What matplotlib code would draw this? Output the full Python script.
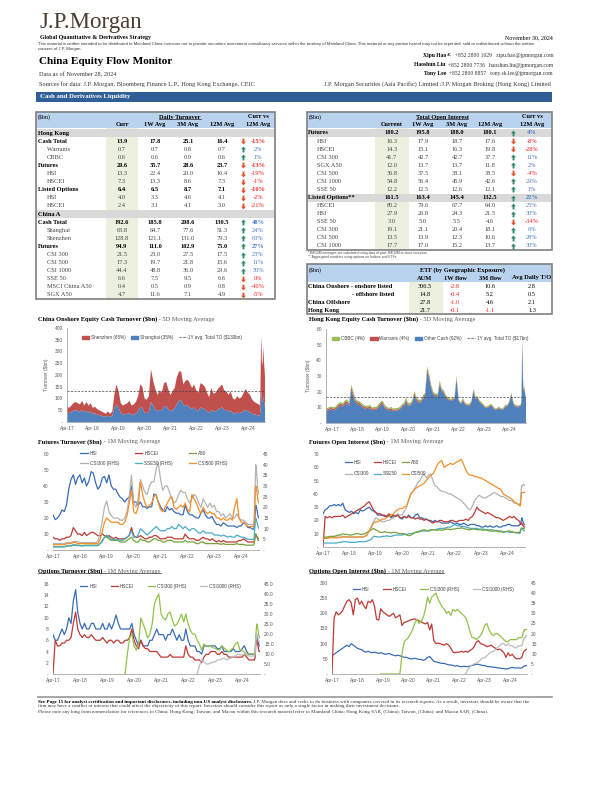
import numpy as np
import pandas as pd
import matplotlib
matplotlib.use("Agg")
import matplotlib.pyplot as plt
import matplotlib.dates as mdates
from matplotlib.patches import Rectangle, Patch
from matplotlib.lines import Line2D
from matplotlib.path import Path
from matplotlib.ticker import FuncFormatter, MultipleLocator

nan = np.nan
SERIF = ["Liberation Serif", "DejaVu Serif"]
SANS = ["Liberation Sans", "DejaVu Sans"]
plt.rcParams["font.family"] = SANS

# ---------------- table data ----------------
turnover_labels = ["Hong Kong", "Cash Total", "Warrants", "CBBC", "Futures", "HSI", "HSCEI",
                   "Listed Options", "HSI", "HSCEI", "China A", "Cash Total", "Shanghai",
                   "Shenzhen", "Futures", "CSI 300", "CSI 500", "CSI 1000", "SSE 50",
                   "MSCI China A50", "SGX A50"]
turnover_kind = ["section", "total", "item", "item", "total", "item", "item", "total", "item",
                 "item", "section", "total", "item", "item", "total", "item", "item", "item",
                 "item", "item", "item"]
turnover_curr = [None, 13.9, 0.7, 0.6, 20.6, 13.3, 7.3, 6.4, 4.0, 2.4, None, 192.6, 63.8, 128.8,
                 94.9, 21.5, 17.3, 44.4, 6.6, 0.4, 4.7]
turnover_1w = [None, 17.8, 0.7, 0.6, 35.7, 22.4, 13.3, 6.5, 3.3, 3.1, None, 185.8, 64.7, 121.1,
               111.0, 23.0, 19.7, 48.8, 7.5, 0.5, 11.6]
turnover_3m = [None, 25.1, 0.8, 0.9, 28.6, 20.0, 8.6, 8.7, 4.6, 4.1, None, 208.6, 77.6, 131.0,
               102.9, 27.5, 21.8, 36.0, 9.5, 0.9, 7.1]
turnover_12m = [None, 16.4, 0.7, 0.6, 23.7, 16.4, 7.3, 7.1, 4.1, 3.0, None, 130.5, 51.3, 79.3,
                75.0, 17.5, 15.6, 29.6, 6.6, 0.8, 4.9]
turnover_chg = [None, -15, 2, 1, -13, -19, -1, -10, -2, -21, None, 48, 24, 63, 27, 23, 11, 50,
                -0.2, -46, -5]

oi_labels = ["Futures", "HSI", "HSCEI", "CSI 300", "SGX A50", "CSI 500", "CSI 1000", "SSE 50",
             "Listed Options**", "HSCEI", "HSI", "SSE 50", "CSI 300", "CSI 500", "CSI 1000"]
oi_kind = ["total"] + ["item"] * 7 + ["total"] + ["item"] * 6
oi_curr = [180.2, 16.3, 14.3, 41.7, 12.0, 36.8, 54.8, 12.2, 161.5, 80.2, 27.9, 3.0, 19.1, 13.5, 17.7]
oi_1w = [195.8, 17.9, 15.1, 42.7, 13.7, 37.5, 56.4, 12.5, 163.4, 79.6, 26.8, 5.0, 21.1, 13.9, 17.0]
oi_3m = [188.0, 18.7, 16.3, 42.7, 13.7, 38.1, 45.9, 12.6, 145.4, 67.7, 24.3, 5.5, 20.4, 12.3, 15.2]
oi_12m = [180.1, 17.6, 19.8, 37.7, 11.8, 38.5, 42.6, 12.1, 132.5, 64.0, 21.5, 4.6, 18.1, 10.6, 13.7]
oi_chg = [4, -8, -28, 11, 2, -4, 29, 1, 22, 25, 30, -34, 6, 28, 30]

etf_labels = ["China Onshore - onshore listed", "- offshore listed", "China Offshore", "Hong Kong"]
etf_aum = [306.5, 14.8, 27.8, 21.7]
etf_1w = [-2.8, -0.4, -1.0, -0.1]
etf_3m = [10.6, 5.2, 4.6, -1.1]
etf_avg = [2.8, 0.5, 2.1, 1.3]

author_names = ["Xipu Hao", "Haoshun Liu", "Tony Lee"]
author_phones = ["+852 2800 1029", "+852 2800 7736", "+852 2800 8857"]
author_mails = ["xipu.hao@jpmorgan.com", "haoshun.liu@jpmorgan.com", "tony.sk.lee@jpmorgan.com"]

# ---------------- chart data ----------------
month_dates = pd.date_range("2017-04-01", "2024-08-01", freq="MS")
late_dates = pd.to_datetime(["2024-09-01", "2024-09-15", "2024-09-24", "2024-10-01", "2024-10-08",
                             "2024-10-15", "2024-10-22", "2024-11-01", "2024-11-08", "2024-11-15",
                             "2024-11-28"])
dates = month_dates.append(late_dates)
hk_dates = pd.date_range("2017-01-01", "2024-08-01", freq="MS").append(late_dates)

shanghai = [40, 38, 42, 48, 50, 47, 44, 50, 42,
            48, 40, 45, 35, 37, 32, 30, 27, 24, 22, 27, 22,
            27, 60, 75, 60, 38, 32, 33, 35, 38, 30, 32, 36,
            45, 65, 60, 40, 38, 42, 85, 68, 55, 45, 52, 50,
            65, 68, 56, 45, 52, 58, 75, 90, 95, 70, 72, 70,
            62, 55, 62, 52, 48, 62, 58, 55, 45, 40, 52, 45,
            46, 52, 58, 62, 52, 50, 44, 50, 38, 36, 40, 38,
            40, 46, 52, 46, 42, 35, 32, 30,
            28, 26, 45, 110, 130, 90, 85, 95, 110, 85, 64]
shenzhen = [25, 22, 28, 32, 35, 33, 31, 40, 28,
            37, 30, 35, 25, 28, 23, 20, 18, 16, 13, 18, 13,
            18, 60, 85, 70, 42, 38, 42, 45, 52, 40, 43, 49,
            65, 95, 90, 60, 57, 68, 140, 107, 85, 70, 83, 75,
            100, 102, 84, 70, 78, 87, 115, 125, 120, 90, 103, 110,
            103, 90, 98, 83, 77, 103, 102, 95, 80, 65, 93, 75,
            79, 88, 92, 98, 83, 80, 71, 80, 62, 59, 70, 62,
            65, 79, 88, 79, 73, 60, 53, 50,
            47, 44, 75, 190, 235, 170, 155, 185, 210, 165, 131]
onshore_avg = 130
onshore_names = ["Shenzhen (65%)", "Shanghai (35%)", "1Y avg. Total TO ($130bn)"]

hk_other = [7.5, 8, 8.5, 8.5, 8, 9, 10.5, 11, 10.5, 12, 12.5, 11,
            21, 17, 13, 12, 11.5, 10.5, 9.5, 9, 9, 9.5, 8, 8.5,
            8.5, 10, 11.5, 12, 9.5, 8.5, 8, 8.5, 7.5, 8, 8, 8.5,
            10, 11, 14, 11, 11, 13, 18, 14.5, 13, 13, 15.5, 17,
            33, 28, 22, 18, 17, 17, 25, 20, 19, 16, 15, 14,
            14.5, 15.5, 28, 14, 12, 14.5, 12, 11, 11, 13, 20, 15.5,
            15.5, 13, 12, 10.5, 9.5, 10, 11, 10.5, 8.5, 8.5, 9.5, 8.5,
            8.5, 10.5, 10.5, 13, 18, 12, 10.5, 10,
            10.5, 11, 14, 40, 50, 28, 22, 20, 22, 18, 15]
hk_warrants = [0.9, 1.0, 1.0, 1.0, 1.1, 1.1, 1.2, 1.2, 1.1, 1.3, 1.3, 1.2,
               1.8, 1.6, 1.3, 1.2, 1.2, 1.1, 1.0, 1.0, 1.0, 1.0, 0.9, 0.9,
               0.9, 1.0, 1.1, 1.1, 0.9, 0.8, 0.8, 0.8, 0.7, 0.7, 0.7, 0.8,
               0.8, 0.9, 1.0, 0.8, 0.8, 0.9, 1.1, 1.0, 0.9, 0.9, 1.0, 1.1,
               1.6, 1.5, 1.1, 0.9, 0.8, 0.8, 1.0, 0.9, 0.8, 0.7, 0.7, 0.6,
               0.6, 0.7, 1.0, 0.6, 0.5, 0.6, 0.5, 0.5, 0.5, 0.6, 0.8, 0.6,
               0.6, 0.5, 0.5, 0.5, 0.4, 0.4, 0.5, 0.5, 0.4, 0.4, 0.4, 0.4,
               0.4, 0.5, 0.5, 0.6, 0.7, 0.5, 0.5, 0.5,
               0.5, 0.5, 0.6, 1.5, 1.8, 1.0, 0.8, 0.8, 0.8, 0.7, 0.7]
hk_cbbc = [0.8, 0.8, 0.9, 0.9, 0.9, 1.0, 1.1, 1.1, 1.0, 1.1, 1.2, 1.1,
           1.6, 1.5, 1.2, 1.1, 1.1, 1.0, 1.0, 1.0, 1.0, 1.1, 1.0, 1.0,
           1.0, 1.1, 1.1, 1.2, 1.0, 0.9, 0.9, 1.0, 0.9, 0.9, 0.9, 0.9,
           1.0, 1.1, 1.3, 1.1, 1.0, 1.1, 1.3, 1.1, 1.0, 1.0, 1.1, 1.2,
           1.6, 1.5, 1.2, 1.0, 0.9, 0.9, 1.1, 1.0, 1.0, 0.9, 0.9, 0.8,
           0.8, 0.9, 1.2, 0.8, 0.7, 0.8, 0.7, 0.7, 0.7, 0.8, 1.0, 0.8,
           0.8, 0.7, 0.7, 0.6, 0.6, 0.6, 0.6, 0.6, 0.5, 0.5, 0.6, 0.5,
           0.5, 0.6, 0.6, 0.7, 0.8, 0.6, 0.6, 0.6,
           0.6, 0.6, 0.7, 1.6, 2.0, 1.1, 0.9, 0.8, 0.9, 0.7, 0.6]
hk_avg = 16.5
hk_names = ["CBBC (4%)", "Warrants (4%)", "Other Cash (92%)", "1Y avg. Total TO ($17bn)"]

fut_hsi = [22, 19, 20, 22, 25, 24, 28, 38, 44,
           47, 41, 45, 47, 42, 45, 40, 43, 49, 48, 42, 38,
           40, 45, 46, 42, 47, 40, 38, 38, 35, 33, 32, 30,
           32, 33, 40, 30, 30, 28, 30, 27, 27, 26, 27, 27,
           35, 34, 30, 27, 25, 24, 27, 25, 26, 24, 23, 23,
           22, 22, 28, 24, 22, 22, 21, 20, 20, 23, 25, 22,
           20, 20, 21, 18, 16, 16, 15, 17, 16, 15, 15, 15,
           15, 14, 15, 15, 17, 16, 14, 14,
           13, 13, 14, 18, 24, 28, 27, 25, 23, 21, 20]
fut_hscei = [8, 7, 7, 6, 7, 7, 8, 8, 9,
             14, 12, 10, 10, 9, 11, 9, 10, 11, 11, 10, 9,
             9, 10, 9, 8, 9, 8, 7, 8, 7, 7, 7, 7,
             8, 9, 14, 9, 8, 8, 9, 8, 7, 7, 8, 8,
             9, 9, 8, 7, 7, 7, 8, 8, 8, 7, 7, 7,
             7, 7, 10, 8, 7, 7, 7, 6, 6, 7, 8, 7,
             7, 6, 7, 6, 5, 6, 5, 6, 5, 5, 5, 5,
             5, 5, 6, 6, 7, 6, 5, 5,
             5, 5, 5, 7, 9, 10, 9, 8, 8, 7, 7]
fut_a50 = [2, 2, 2, 2, 2, 2, 2.5, 2.5, 2.5,
           3, 3, 3, 3, 2.5, 3, 3, 3, 3, 3, 3, 3,
           4, 6, 8, 8, 7, 6, 6, 6, 6, 5, 5, 5,
           6, 7, 8, 6, 5, 5, 7, 6, 6, 5, 5, 6,
           7, 7, 6, 6, 5, 5, 6, 6, 6, 5, 5, 5,
           5, 5, 6, 5, 5, 5, 5, 4, 4, 5, 5, 4,
           4, 4, 4, 4, 4, 4, 3.5, 4, 3.5, 3.5, 3.5, 3.5,
           3.5, 4, 3.5, 3.5, 3.5, 3, 3, 3,
           3, 3, 4, 7, 9, 10, 9, 8, 7, 6, 6]
fut_csi300 = [3, 3, 3, 3, 3, 3, 3.5, 3.5, 3.5,
              4, 4, 4, 3.5, 3.5, 3.5, 3.5, 3.5, 3.5, 3.5, 3.5, 4,
              8, 14, 20, 23, 18, 16, 15, 15, 15, 14, 14, 15,
              18, 25, 35, 22, 20, 24, 33, 30, 27, 26, 30, 32,
              32, 38, 41, 33, 28, 30, 30, 27, 24, 22, 23, 26,
              28, 27, 27, 24, 22, 24, 26, 25, 22, 20, 24, 22,
              20, 22, 20, 21, 18, 18, 16, 17, 15, 16, 17, 15,
              15, 17, 15, 14, 14, 13, 12, 12,
              12, 12, 14, 22, 32, 40, 38, 34, 30, 28, 26]
fut_sse50 = [1.5, 1.5, 1.5, 1.5, 1.5, 1.5, 2, 2, 2,
             2.5, 2.5, 2, 2, 2, 2, 2, 2, 2, 2, 2, 2,
             3, 4, 6, 7, 6, 5, 5, 5, 5, 4.5, 4.5, 5,
             6, 7, 9, 6, 6, 7, 10, 9, 8, 7, 8, 9,
             10, 11, 10, 9, 9, 9, 10, 10, 11, 10, 10, 12,
             11, 10, 11, 10, 9, 10, 10, 9, 8, 8, 9, 8,
             8, 8, 8, 7, 7, 7, 6.5, 7, 6.5, 6, 6.5, 6,
             6, 7, 6.5, 6, 6, 5.5, 5, 5,
             5, 5, 6, 10, 13, 15, 14, 13, 12, 11, 10]
fut_csi500 = [2.5, 2.5, 2.5, 2.5, 2.5, 2.5, 3, 3, 3,
              3.5, 3.5, 3, 3, 3, 3, 3, 3, 3, 3, 3, 3,
              5, 9, 13, 15, 14, 13, 13, 13, 13, 12, 12, 13,
              16, 22, 28, 18, 17, 20, 32, 26, 22, 20, 21, 22,
              25, 26, 22, 19, 18, 20, 22, 24, 25, 20, 19, 20,
              21, 20, 22, 19, 18, 26, 24, 22, 19, 17, 20, 18,
              17, 18, 17, 17, 15, 15, 14, 15, 14, 14, 15, 14,
              20, 24, 15, 13, 13, 12, 11, 11,
              11, 11, 13, 20, 27, 30, 29, 27, 25, 23, 22]

foi_hsi = [25, 28, 29, 31, 31, 32, 31, 32, 31,
           33, 28, 27, 26, 27, 25, 26, 25, 28, 27, 28, 29,
           30, 28, 27, 26, 24, 24, 24, 23, 23, 24, 22, 23,
           23, 24, 22, 21, 23, 22, 24, 22, 22, 24, 25, 22,
           22, 21, 21, 20, 20, 19, 20, 19, 19, 18, 18, 18,
           18, 19, 18, 17, 18, 17, 17, 18, 17, 16, 17, 17,
           17, 16, 16, 15, 15, 16, 15, 16, 15, 15, 16, 15,
           15, 16, 16, 17, 17, 16, 16, 16,
           16, 17, 17, 18, 20, 22, 21, 19, 18, 17, 17]
foi_hscei = [0, 23, 22, 23, 22, 23, 23, 23, 23,
             24, 22, 23, 24, 25, 26, 27, 28, 29, 30, 31, 33,
             34, 31, 28, 26, 25, 25, 24, 24, 23, 25, 23, 24,
             23, 24, 22, 22, 23, 22, 23, 22, 22, 21, 22, 21,
             21, 20, 21, 20, 19, 18, 19, 19, 20, 20, 19, 19,
             19, 20, 20, 19, 19, 20, 20, 20, 21, 20, 22, 23,
             26, 30, 28, 27, 26, 25, 26, 25, 24, 23, 22, 22,
             21, 20, 21, 22, 23, 22, 23, 21,
             20, 19, 18, 17, 18, 18, 17, 16, 16, 15, 15]
foi_a50 = [7, 7.5, 7.5, 8, 8, 8, 8.5, 9, 9,
           10, 9.5, 9.5, 9, 9, 9.5, 10, 10, 9.5, 9.5, 10, 11,
           12, 13, 14, 13, 12, 11, 11, 11.5, 11, 11, 10.5, 11,
           11, 10.5, 10, 10, 10, 9, 8.5, 9, 10, 11, 11.5, 12,
           12.5, 13, 12.5, 12, 12.5, 13, 13, 12.5, 13, 12.5, 13, 13.5,
           13.5, 13, 13.5, 13.5, 14, 14, 14.5, 14, 13.5, 13, 13, 13.5,
           13.5, 13, 13, 13, 12.5, 13, 12.5, 12, 12, 12, 12, 11.5,
           11.5, 11, 11.5, 12, 12, 11.5, 11, 11,
           11, 11, 12, 13, 14, 14.5, 14, 14, 14, 14, 14]
foi_csi300 = [7, 7, 7, 7, 7.5, 7.5, 7.5, 7.5, 7.5,
              8, 8, 7.5, 7.5, 7.5, 7.5, 7.5, 7.5, 7.5, 7.5, 8, 9,
              12, 16, 19, 22, 21, 20, 19, 19, 20, 20, 21, 22,
              24, 25, 24, 24, 27, 30, 36, 40, 42, 45, 48, 50,
              53, 55, 52, 54, 55, 50, 46, 45, 43, 42, 42, 41,
              40, 40, 39, 38, 37, 36, 35, 33, 31, 29, 28, 31,
              35, 37, 39, 38, 37, 37, 38, 39, 40, 41, 40, 39,
              38, 38, 37, 36, 35, 35, 33, 33,
              32, 32, 33, 38, 44, 46, 46, 47, 47, 47, 46]
foi_sse50 = [3, 3, 3, 3, 3, 3, 3, 3.5, 3.5,
             4, 4, 4, 3.5, 3.5, 3.5, 3.5, 4, 4, 4, 4, 4.5,
             5, 6, 8, 8, 7.5, 7.5, 8, 8, 8.5, 8, 8, 8.5,
             9, 9, 9, 9, 9.5, 9.5, 10, 10, 10.5, 11, 11, 11.5,
             12, 12, 12, 12.5, 13, 13, 13, 13.5, 14, 14, 14, 14.5,
             15, 15, 16, 17, 16, 16, 15.5, 15.5, 15, 14.5, 14, 14,
             14, 14, 13.5, 13.5, 13.5, 13, 13, 13, 13, 12.5, 12.5, 12,
             12, 11.5, 11.5, 11.5, 11, 11, 11, 10.5,
             10.5, 10, 11, 13, 14, 14, 13.5, 13, 12.5, 12.5, 12]
foi_csi500 = [6, 6.5, 6.5, 7, 7, 7, 7, 7, 7,
              7.5, 7.5, 7.5, 7.5, 7.5, 7.5, 7.5, 7.5, 7.5, 7.5, 8, 9,
              12, 15, 18, 19, 19, 20, 21, 21, 22, 23, 24, 25,
              27, 28, 29, 29, 30, 31, 35, 40, 42, 44, 45, 46,
              47, 48, 50, 52, 54, 55, 58, 62, 64, 65, 60, 61,
              62, 63, 62, 63, 64, 65, 66, 62, 58, 55, 54, 54,
              53, 53, 52, 52, 51, 50, 49, 48, 47, 46, 45, 44,
              43, 40, 39, 38, 37, 36, 34, 33,
              32, 31, 31, 35, 40, 41, 41, 41, 41, 41, 41]

opt_hsi = [7, 6, 6, 7, 8, 7, 8, 10, 9,
           13, 15, 11, 9, 8, 9, 8, 8, 9, 9, 8, 8,
           8, 9, 8, 8, 9, 8, 9, 10.5, 9, 8, 8, 8,
           8, 8, 9, 7, 6, 5, 6, 5, 5, 5, 6, 6,
           7, 8, 7, 7, 7, 6, 7, 7, 8, 7, 6, 7,
           6, 6, 8, 6, 5, 5, 5, 4, 4, 3.5, 5, 5,
           5, 5, 5, 5, 4.5, 4.5, 5, 4, 4, 4, 4, 4.5,
           4, 4, 4, 4.5, 5, 4, 3.5, 3.5,
           3.5, 3.5, 4, 6, 7, 7, 6.5, 6, 5.5, 5, 5]
opt_hscei = [0, 6, 5, 5, 5.5, 5.5, 6, 6, 6.5,
             9, 11, 8, 7, 6.5, 7, 6.5, 6.5, 7, 6.5, 6, 6,
             6, 6.5, 6, 5.5, 6, 6, 5.5, 6, 6, 5.5, 5.5, 6,
             6, 6.5, 8, 6, 5, 4.5, 6, 5, 4.5, 4.5, 4, 4,
             4, 4, 3.5, 3, 3, 3, 3, 3.5, 3, 3, 3, 3,
             3, 3, 5, 3.5, 3, 3, 2.5, 2.5, 2.5, 2, 3, 3.5,
             3.5, 4, 4, 4, 3.5, 3.5, 4, 3.5, 3.5, 3, 3, 3,
             3, 3, 3, 3, 3.5, 3, 2.5, 2.5,
             2.5, 2.5, 3, 5, 6, 6, 5.5, 5, 4.5, 4, 4]
opt_csi300 = [nan] * 32 + [0,
              10, 18, 20, 14, 12, 15, 28, 25, 22, 18, 20, 25,
              35, 38, 40, 30, 28, 27, 30, 31, 27, 24, 25, 27,
              30, 26, 30, 25, 22, 20, 20, 17, 15, 12, 15, 14,
              14, 14, 13, 13, 12, 12, 14, 13, 12, 11, 12, 13,
              15, 16, 12, 12, 11, 10, 10, 10,
              10, 10, 12, 18, 22, 25, 24, 22, 20, 19, 18]
opt_csi1000 = [nan] * 64 + [0, 4, 7, 6, 5,
               5, 5.5, 6, 6, 7, 7, 7.5, 8, 7, 7.5, 8, 8.5,
               9, 10, 9.5, 9.5, 10, 9.5, 9, 9,
               9, 9, 10, 15, 19, 20, 19, 18, 17, 16, 16]

ooi_hsi = [60, 65, 70, 75, 80, 85, 90, 95, 90,
           100, 95, 90, 85, 82, 80, 75, 72, 75, 72, 70, 72,
           70, 68, 70, 68, 65, 66, 68, 64, 62, 60, 62, 60,
           58, 55, 55, 52, 50, 50, 52, 50, 48, 48, 45, 48,
           55, 58, 50, 42, 40, 38, 36, 35, 35, 32, 30, 30,
           28, 26, 28, 25, 24, 25, 25, 24, 26, 28, 30, 32,
           32, 30, 28, 28, 25, 24, 24, 22, 22, 20, 20, 18,
           18, 16, 18, 20, 22, 20, 20, 20,
           20, 20, 21, 23, 25, 26, 26, 27, 27, 28, 28]
ooi_hscei = [0, 185, 205, 195, 200, 210, 225, 240, 245,
             235, 195, 245, 250, 230, 240, 225, 215, 240, 235, 245, 225,
             180, 178, 215, 205, 200, 195, 190, 195, 200, 185, 190, 195,
             160, 170, 172, 175, 178, 180, 182, 178, 175, 172, 168, 165,
             170, 145, 165, 110, 100, 102, 100, 97, 95, 100, 95, 85,
             72, 70, 72, 72, 75, 72, 75, 72, 78, 82, 90, 105,
             110, 100, 98, 95, 90, 92, 95, 90, 85, 80, 82, 78,
             70, 55, 70, 60, 65, 55, 50, 50,
             52, 55, 60, 68, 72, 75, 76, 78, 80, 81, 82]
ooi_csi300 = [nan] * 23 + [0] * 10 + [
              10, 16, 17, 18, 20, 22, 25, 27, 25, 26, 28, 32,
              38, 35, 38, 39, 40, 37, 35, 33, 32, 30, 31, 29,
              32, 31, 32, 31, 30, 29, 28, 25, 21, 18, 18, 17,
              18, 19, 21, 24, 25, 22, 20, 19, 20, 20, 19, 18,
              17, 16, 16, 17, 17, 17, 17, 18,
              18, 18, 19, 20, 21, 21, 22, 22, 22, 22, 22]
ooi_csi1000 = [nan] * 63 + [0, 2, 3.5, 4.5, 5, 5.5,
               6, 7, 8, 8, 9, 10, 11, 11, 12, 13, 14, 15,
               15, 14, 15, 14, 14, 13, 13, 14,
               14, 14, 15, 16, 17, 17, 18, 18, 18, 19, 19]

# colours
BLUE, RED, GREEN = "#4f81bd", "#c0504d", "#9bbb59"
C_HSI, C_HSCEI, C_A50 = "#3a6cb5", "#be3a34", "#77a33a"
C_300, C_SSE, C_500 = "#b3b3b3", "#4bacc6", "#f28e2b"
C_O300, C_O1000 = "#92c14b", "#bdbdbd"
UP, DOWN = "#2f8a66", "#e0532d"
POS, NEG = "#4a7bc8", "#ff2020"

# block arrow shapes for the "Curr vs 12M" column
_arrow = [(0, 1), (-0.85, 0.05), (-0.32, 0.05), (-0.32, -1), (0.32, -1), (0.32, 0.05), (0.85, 0.05), (0, 1)]
_codes = [Path.MOVETO] + [Path.LINETO] * 6 + [Path.CLOSEPOLY]
UP_ARROW = Path(_arrow, _codes)
DOWN_ARROW = Path([(x, -y) for x, y in _arrow], _codes)

# ---------------- page ----------------
fig = plt.figure(figsize=(6, 8), dpi=100)
page = fig.add_axes([0, 0, 1, 1])
page.set_xlim(0, 600)
page.set_ylim(800, 0)
page.axis("off")
renderer = fig.canvas.get_renderer()


def put(x, y, s, size=4.6, bold=False, color="black", ha="left", va="center", family=SERIF):
    return page.text(x, y, s, fontsize=size, fontweight="bold" if bold else "normal",
                     color=color, ha=ha, va=va, family=family)


def span(t):
    bb = t.get_window_extent(renderer)
    pts = page.transData.inverted().transform([[bb.x0, bb.y0], [bb.x1, bb.y1]])
    return pts[:, 0].min(), pts[:, 0].max(), pts[:, 1].min(), pts[:, 1].max()


def underline(t0, t1=None, lw=0.4):
    a = span(t0)
    b = span(t1) if t1 is not None else a
    page.plot([a[0], b[1]], [a[3] - 0.7, a[3] - 0.7], color="black", lw=lw)


def two_part(x, y, a, b, size=4.6, cb="#595959"):
    t1 = put(x, y, a, size=size, bold=True)
    t2 = put(span(t1)[1], y, b, size=size, color=cb)
    return t1, t2


def pct_text(v):
    return f"{int(round(v))}%"


def arrow(x, y, v):
    page.plot([x], [y], marker=UP_ARROW if v >= 0 else DOWN_ARROW, ms=4.2, mew=0,
              color=UP if v >= 0 else DOWN, ls="none")


# header
put(39, 28, "J.P.Morgan", size=16.5, color="#4c3b30", va="baseline")
put(40, 38, "Global Quantitative & Derivatives Strategy", size=4.3, bold=True)
put(553, 38, "November 30, 2024", size=4.3, ha="right")
put(38, 44, "This material is neither intended to be distributed to Mainland China investors nor to "
    "provide securities investment consultancy services within the territory of Mainland China. "
    "This material or any portion hereof may not be reprinted, sold or redistributed without the written",
    size=3.1, family=SANS, color="#333333")
put(38, 49, "consent of J.P. Morgan.", size=3.1, family=SANS, color="#333333")
put(39, 62, "China Equity Flow Monitor", size=8.1, bold=True)
put(39, 75, "Data as of November 28, 2024", size=4.5, color="#333333")
put(39, 84, "Sources for data: J.P. Morgan, Bloomberg Finance L.P., Hong Kong Exchange, CEIC", size=4.5,
    color="#333333")
put(551, 84, "J.P. Morgan Securities (Asia Pacific) Limited /J.P. Morgan Broking (Hong Kong) Limited",
    size=4.5, ha="right", color="#333333")

for i, (nm, ph, ml) in enumerate(zip(author_names, author_phones, author_mails)):
    y = 56 + 9 * i
    t = put(553, y, f"  {ph}   {ml}", size=4.1, ha="right", color="#333333")
    x0 = span(t)[0]
    if i == 0:
        s = put(x0, y - 1.3, "AC", size=2.5, bold=True, ha="right")
        x0 = span(s)[0]
    put(x0, y, nm, size=4.1, bold=True, ha="right")

page.add_patch(Rectangle((36, 92), 516, 9.5, color="#2f5f96", lw=0))
put(40, 96.9, "Cash and Derivatives Liquidity", size=4.9, bold=True, color="white")

# ---- left table: daily turnover ----
LX0, LX1, LTOP, LBOT = 36, 275, 112, 299
page.add_patch(Rectangle((LX0, LTOP), LX1 - LX0, 16, color="#b9d3ef", lw=0))
page.add_patch(Rectangle((106, 128), 32, LBOT - 128, color="#ebf1de", lw=0))
put(38, 117, "($bn)", size=4.3)
underline(put(180, 117, "Daily Turnover", bold=True, ha="center"))
put(258, 117, "Curr vs", bold=True, ha="center")
for x, h in zip([122, 155, 188, 222, 258], ["Curr", "1W Avg", "3M Avg", "12M Avg", "12M Avg"]):
    put(x, 124.5, h, bold=True, ha="center")
for i, lab in enumerate(turnover_labels):
    y = 133 + 8.1 * i
    kind = turnover_kind[i]
    if kind == "section":
        page.add_patch(Rectangle((LX0, y - 4.1), LX1 - LX0, 8.1, color="#d9d9d9", lw=0))
        put(38, y, lab, bold=True)
        continue
    bold = kind == "total"
    col = "black" if bold else "#454545"
    put(38 if bold else 47, y, lab, bold=bold, color=col)
    vals = [turnover_curr[i], turnover_1w[i], turnover_3m[i], turnover_12m[i]]
    for x, v in zip([122, 155, 188, 222], vals):
        put(x, y, f"{v:.1f}", bold=bold, color=col, ha="center")
    c = turnover_chg[i]
    arrow(243, y, c)
    put(258, y, pct_text(c), bold=bold, color=POS if c >= 0 else NEG, ha="center")
page.add_patch(Rectangle((LX0, LTOP), LX1 - LX0, LBOT - LTOP, fill=False, ec="#7f7f7f", lw=1.2))

# ---- right table: open interest ----
RX0, RX1, RTOP, RBOT = 307, 552, 112, 250
page.add_patch(Rectangle((RX0, RTOP), RX1 - RX0, 16, color="#b9d3ef", lw=0))
page.add_patch(Rectangle((375, 128), 34, RBOT - 128, color="#ebf1de", lw=0))
put(309, 117, "($bn)", size=4.3)
underline(put(442, 117, "Total Open Interest", bold=True, ha="center"))
put(532, 117, "Curr vs", bold=True, ha="center")
for x, h in zip([392, 423, 457, 490, 532], ["Current", "1W Avg", "3M Avg", "12M Avg", "12M Avg"]):
    put(x, 124.5, h, bold=True, ha="center")
for i, lab in enumerate(oi_labels):
    y = 133 + 8.07 * i
    bold = oi_kind[i] == "total"
    col = "black" if bold else "#454545"
    if bold:
        page.add_patch(Rectangle((RX0, y - 4.0), RX1 - RX0, 8.0, color="#d9d9d9", lw=0))
    put(308 if bold else 317, y, lab, bold=bold, color=col)
    for x, v in zip([392, 423, 457, 490], [oi_curr[i], oi_1w[i], oi_3m[i], oi_12m[i]]):
        put(x, y, f"{v:.1f}", bold=bold, color=col, ha="center")
    c = oi_chg[i]
    arrow(513, y, c)
    put(532, y, pct_text(c), bold=bold, color=POS if c >= 0 else NEG, ha="center")
page.add_patch(Rectangle((RX0, RTOP), RX1 - RX0, RBOT - RTOP, fill=False, ec="#7f7f7f", lw=1.2))
put(308, 253, "*3M/12M averages are calculated using data of past 3M/12M or since inception", size=2.4,
    family=SANS, color="#444444")
put(308, 257, "** Aggregated numbers using options on Indices and ETFs", size=2.4, family=SANS,
    color="#444444")

# ---- ETF table ----
ETOP, EBOT = 264, 314
page.add_patch(Rectangle((RX0, ETOP), RX1 - RX0, 18, color="#b9d3ef", lw=0))
page.add_patch(Rectangle((409, 282), 34, EBOT - 282, color="#ebf1de", lw=0))
put(309, 270.5, "($bn)", size=4.3)
put(462, 270.5, "ETF (by Geographic Exposure)", bold=True, ha="center")
for x, h in zip([425, 455, 490, 532], ["AUM", "1W flow", "3M flow", "Avg Daily T/O"]):
    put(x, 278, h, bold=True, ha="center")
for i, lab in enumerate(etf_labels):
    y = 287 + 7.8 * i
    if lab.startswith("-"):
        put(394, y, lab, bold=True, ha="right")
    else:
        put(308, y, lab, bold=True)
    put(425, y, f"{etf_aum[i]:.1f}", ha="center")
    put(455, y, f"{etf_1w[i]:.1f}", ha="center", color=NEG if etf_1w[i] < 0 else "black")
    put(490, y, f"{etf_3m[i]:.1f}", ha="center", color=NEG if etf_3m[i] < 0 else "black")
    put(532, y, f"{etf_avg[i]:.1f}", ha="center")
page.add_patch(Rectangle((RX0, ETOP), RX1 - RX0, EBOT - ETOP, fill=False, ec="#7f7f7f", lw=1.2))

# ---- chart titles ----
two_part(38, 319, "China Onshore Equity Cash Turnover ($bn)", " - 5D Moving Average")
two_part(309, 319, "Hong Kong Equity Cash Turnover ($bn)", " - 5D Moving Average")
two_part(38, 442, "Futures Turnover ($bn)", " - 1M Moving Average")
two_part(309, 442, "Futures Open Interest ($bn)", " - 1M Moving Average")
underline(*two_part(38, 571, "Options Turnover ($bn)", " - 1M Moving Average"))
underline(*two_part(309, 571, "Options Open Interest ($bn)", " - 1M Moving Average"))

# ---- footer ----
page.plot([38, 552], [697, 697], color="#a0a0a0", lw=1.3)
two_part(38, 701.5, "See Page 15 for analyst certification and important disclosures, including non-US analyst disclosures.",
         " J.P. Morgan does and seeks to do business with companies covered in its research reports. As a result, investors should be aware that the",
         size=3.6, cb="#333333")
put(38, 706.5, "firm may have a conflict of interest that could affect the objectivity of this report. Investors "
    "should consider this report as only a single factor in making their investment decisions.", size=3.6,
    color="#333333")
put(38, 711.5, "Please note any long form nomenclature for references to China; Hong Kong; Taiwan; and Macau "
    "within this research material refer to Mainland China; Hong Kong SAR, (China); Taiwan, (China); "
    "and Macau SAR, (China).", size=3.6, color="#333333")


# ---------------- charts ----------------
def dash_fmt(dec):
    def f(v, pos):
        if abs(v) < 1e-9:
            return "-"
        return f"{v:.{dec}f}"
    return FuncFormatter(f)


def chart(l, t, r, b, xlo, xhi, ymax, step, left_line=True):
    ax = fig.add_axes([l / 600, 1 - b / 800, (r - l) / 600, (b - t) / 800])
    ax.patch.set_alpha(0)
    ax.set_xlim(xlo, xhi)
    ax.set_ylim(0, ymax)
    ax.yaxis.set_major_locator(MultipleLocator(step))
    ax.yaxis.set_major_formatter(dash_fmt(0))
    ax.xaxis.set_major_locator(mdates.MonthLocator(bymonth=4))
    ax.xaxis.set_major_formatter(mdates.DateFormatter("%b-%y"))
    for s in ("top", "right"):
        ax.spines[s].set_visible(False)
    for s in ("bottom", "left"):
        ax.spines[s].set_color("#a6a6a6")
        ax.spines[s].set_linewidth(0.6)
    ax.spines["left"].set_visible(left_line)
    ax.tick_params(labelsize=3.5, labelcolor="#595959", length=0, pad=3)
    return ax


def right_axis(ax, ymax, step, dec=0):
    ax2 = ax.twinx()
    ax2.set_ylim(0, ymax)
    ax2.yaxis.set_major_locator(MultipleLocator(step))
    ax2.yaxis.set_major_formatter(dash_fmt(dec))
    for s in ax2.spines.values():
        s.set_visible(False)
    ax2.tick_params(labelsize=3.5, labelcolor="#595959", length=0, pad=3)
    return ax2


LEG = dict(frameon=False, prop={"size": 3.3}, handlelength=1.6, handleheight=0.8, handletextpad=0.4,
           borderaxespad=0, loc="center", labelcolor="#404040")

# chart 1 - onshore cash turnover
ax1 = chart(67, 328, 265, 422, dates[0], dates[-1], 400, 50)
ax1.stackplot(dates, shanghai, shenzhen, colors=[BLUE, RED], linewidth=0)
ax1.axhline(onshore_avg, color="#404040", lw=0.5, ls=(0, (3, 2)))
ax1.set_ylabel("Turnover ($bn)", fontsize=3.5, color="#595959", labelpad=4)
ax1.legend([Patch(color=RED), Patch(color=BLUE), Line2D([], [], color="#404040", lw=0.5, ls="--")],
           onshore_names, ncol=3, bbox_to_anchor=(0.48, 0.9), columnspacing=1.2, **LEG)

# chart 2 - HK cash turnover
ax2 = chart(326, 329, 526, 423, hk_dates[0], hk_dates[-1], 60, 10)
ax2.stackplot(hk_dates, hk_other, hk_warrants, hk_cbbc, colors=[BLUE, RED, GREEN], linewidth=0)
ax2.axhline(hk_avg, color="#404040", lw=0.5, ls=(0, (3, 2)))
ax2.set_ylabel("Turnover ($bn)", fontsize=3.5, color="#595959", labelpad=4)
ax2.legend([Patch(color=GREEN), Patch(color=RED), Patch(color=BLUE),
            Line2D([], [], color="#404040", lw=0.5, ls="--")],
           hk_names, ncol=4, bbox_to_anchor=(0.52, 0.9), columnspacing=1.2, **LEG)

# chart 3 - futures turnover
ax3 = chart(53, 454, 259, 550, dates[0], dates[-1], 60, 10, left_line=False)
ax3r = right_axis(ax3, 45, 5)
l_hsi, = ax3.plot(dates, fut_hsi, color=C_HSI, lw=0.9)
l_hscei, = ax3.plot(dates, fut_hscei, color=C_HSCEI, lw=0.9)
l_a50, = ax3.plot(dates, fut_a50, color=C_A50, lw=0.9)
l_300, = ax3r.plot(dates, fut_csi300, color=C_300, lw=0.9)
l_sse, = ax3r.plot(dates, fut_sse50, color=C_SSE, lw=0.9)
l_500, = ax3r.plot(dates, fut_csi500, color=C_500, lw=0.9)
ax3r.legend([l_hsi, l_300, l_hscei, l_sse, l_a50, l_500],
            ["HSI", "CSI300 (RHS)", "HSCEI", "SSE50 (RHS)", "A50", "CSI500 (RHS)"],
            ncol=3, bbox_to_anchor=(0.49, 0.955), labelspacing=1.0, columnspacing=3.5, **LEG)

# chart 4 - futures open interest
ax4 = chart(323, 454, 525, 547, dates[0], dates[-1], 70, 10, left_line=False)
h4 = []
for ser, c in zip([foi_hsi, foi_csi300, foi_hscei, foi_sse50, foi_a50, foi_csi500],
                  [C_HSI, C_300, C_HSCEI, C_SSE, C_A50, C_500]):
    h4.append(ax4.plot(dates, ser, color=c, lw=0.9)[0])
ax4.legend(h4, ["HSI", "CSI300", "HSCEI", "SSE50", "A50", "CSI500"], ncol=3,
           bbox_to_anchor=(0.31, 0.85), labelspacing=1.5, columnspacing=1.0, **LEG)

# chart 5 - options turnover
ax5 = chart(53, 584, 260, 674, dates[0], dates[-1], 16, 2, left_line=False)
ax5r = right_axis(ax5, 45, 5, dec=1)
h5 = [ax5.plot(dates, opt_hsi, color=C_HSI, lw=0.9)[0],
      ax5.plot(dates, opt_hscei, color=C_HSCEI, lw=0.9)[0],
      ax5r.plot(dates, opt_csi300, color=C_O300, lw=0.9)[0],
      ax5r.plot(dates, opt_csi1000, color=C_O1000, lw=0.9)[0]]
ax5r.legend(h5, ["HSI", "HSCEI", "CSI300 (RHS)", "CSI1000 (RHS)"], ncol=4,
            bbox_to_anchor=(0.52, 0.975), columnspacing=3.0, **LEG)

# chart 6 - options open interest
ax6 = chart(332, 583, 527, 674, dates[0], dates[-1], 300, 50, left_line=False)
ax6r = right_axis(ax6, 45, 5)
h6 = [ax6.plot(dates, ooi_hsi, color=C_HSI, lw=0.9)[0],
      ax6.plot(dates, ooi_hscei, color=C_HSCEI, lw=0.9)[0],
      ax6r.plot(dates, ooi_csi300, color=C_O300, lw=0.9)[0],
      ax6r.plot(dates, ooi_csi1000, color=C_O1000, lw=0.9)[0]]
ax6r.legend(h6, ["HSI", "HSCEI", "CSI300 (RHS)", "CSI1000 (RHS)"], ncol=4,
            bbox_to_anchor=(0.52, 0.93), columnspacing=3.0, **LEG)

fig.savefig("out.png", dpi=100)
